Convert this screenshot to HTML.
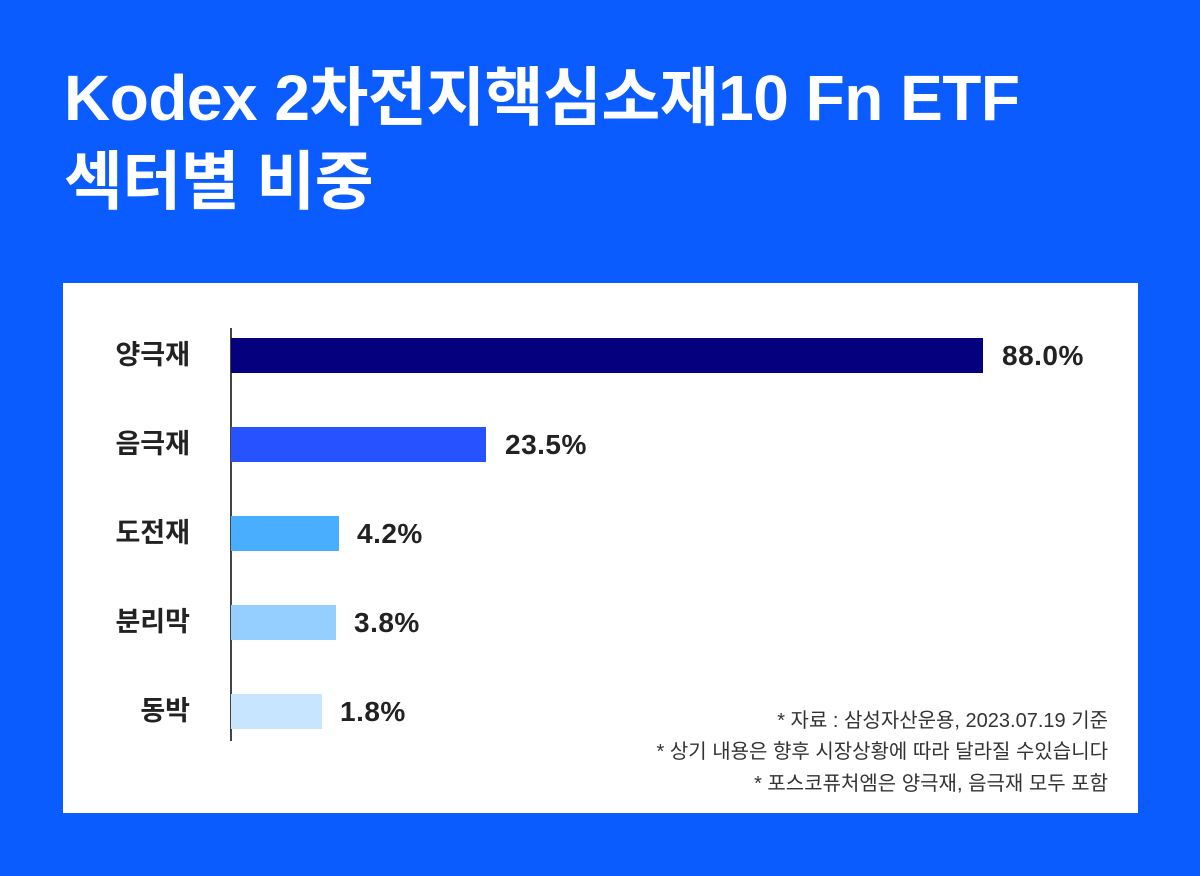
<!DOCTYPE html>
<html><head><meta charset="utf-8"><style>
body{margin:0;width:1200px;height:876px;background:#0a5cff;position:relative;overflow:hidden;font-family:"Liberation Sans","Noto Sans CJK KR",sans-serif}
.t{position:absolute;left:64px;color:#fff;font-weight:bold;font-size:64px;letter-spacing:-0.5px;white-space:nowrap;line-height:1}
.panel{position:absolute;left:63px;top:283px;width:1075px;height:530px;background:#fff}
.ax{position:absolute;left:230px;top:328px;width:1.5px;height:413px;background:#444}
.bar{position:absolute;left:231px;height:35px}
.lab{position:absolute;width:190px;left:0;text-align:right;font-size:27px;font-weight:bold;color:#222;line-height:35px}
.v{position:absolute;font-size:28px;font-weight:bold;color:#222;line-height:35px;letter-spacing:0.5px}
.n{position:absolute;right:92px;text-align:right;font-size:20px;color:#333;white-space:nowrap}
</style></head><body>
<div class="t" style="top:66px">Kodex 2차전지핵심소재10 Fn ETF</div>
<div class="t" style="top:150px">섹터별 비중</div>
<div class="panel"></div>
<div class="ax"></div>
<div class="lab" style="top:338px">양극재</div><div class="bar" style="top:338px;width:752px;background:#05007d"></div><div class="v" style="top:338px;left:1002px">88.0%</div>
<div class="lab" style="top:427px">음극재</div><div class="bar" style="top:427px;width:255px;background:#2653ff"></div><div class="v" style="top:427px;left:505px">23.5%</div>
<div class="lab" style="top:516px">도전재</div><div class="bar" style="top:516px;width:108px;background:#4aaeff"></div><div class="v" style="top:516px;left:357px">4.2%</div>
<div class="lab" style="top:605px">분리막</div><div class="bar" style="top:605px;width:105px;background:#94cfff"></div><div class="v" style="top:605px;left:354px">3.8%</div>
<div class="lab" style="top:694px">동박</div><div class="bar" style="top:694px;width:91px;background:#c8e5ff"></div><div class="v" style="top:694px;left:340px">1.8%</div>
<div class="n" style="top:704px">* 자료 : 삼성자산운용, 2023.07.19 기준</div>
<div class="n" style="top:735px">* 상기 내용은 향후 시장상황에 따라 달라질 수있습니다</div>
<div class="n" style="top:767px">* 포스코퓨처엠은 양극재, 음극재 모두 포함</div>
</body></html>
